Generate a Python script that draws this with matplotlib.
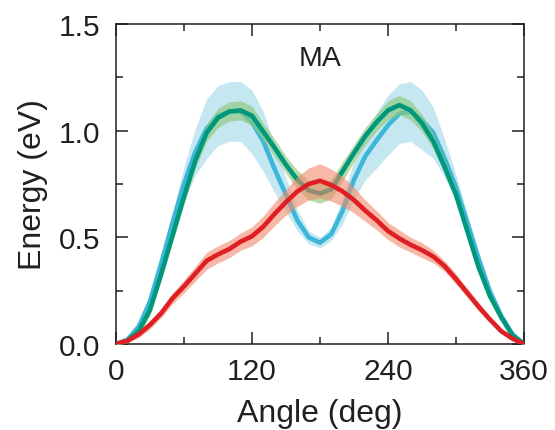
import numpy as np
import matplotlib
matplotlib.use("Agg")
import matplotlib.pyplot as plt
from matplotlib.ticker import MultipleLocator

plt.rcParams['font.family'] = ['Liberation Sans', 'DejaVu Sans']

# torsion angle grid (deg)
angle = np.arange(0, 361, 10)

# mean energy profiles (eV) and their spread
e_blue = [0.0, 0.02, 0.08, 0.20, 0.38, 0.57, 0.75, 0.90, 1.01, 1.07, 1.09, 1.09,
          1.04, 0.95, 0.82, 0.70, 0.58, 0.50, 0.475, 0.515, 0.625, 0.77, 0.88,
          0.955, 1.025, 1.08, 1.09, 1.05, 0.99, 0.87, 0.735, 0.57, 0.40, 0.245,
          0.13, 0.045, 0.0]
s_blue = [0.005, 0.015, 0.03, 0.03, 0.035, 0.05, 0.08, 0.11, 0.14, 0.14, 0.14,
          0.14, 0.15, 0.14, 0.11, 0.08, 0.05, 0.03, 0.025, 0.03, 0.06, 0.09,
          0.11, 0.13, 0.14, 0.14, 0.14, 0.14, 0.12, 0.09, 0.06, 0.04, 0.03,
          0.03, 0.025, 0.015, 0.005]

e_green = [0.0, 0.015, 0.06, 0.16, 0.33, 0.51, 0.69, 0.86, 0.99, 1.06, 1.09,
           1.095, 1.07, 0.995, 0.92, 0.84, 0.77, 0.72, 0.705, 0.725, 0.81,
           0.895, 0.975, 1.04, 1.095, 1.12, 1.095, 1.035, 0.95, 0.83, 0.70,
           0.53, 0.36, 0.225, 0.125, 0.04, 0.0]
s_green = [0.005, 0.01, 0.02, 0.025, 0.03, 0.03, 0.035, 0.035, 0.04, 0.045,
           0.045, 0.045, 0.045, 0.04, 0.04, 0.04, 0.045, 0.045, 0.045, 0.045,
           0.045, 0.04, 0.04, 0.04, 0.045, 0.045, 0.045, 0.04, 0.035, 0.03,
           0.03, 0.025, 0.02, 0.02, 0.015, 0.01, 0.005]

e_red = [0.0, 0.015, 0.045, 0.09, 0.145, 0.215, 0.27, 0.33, 0.39, 0.42, 0.445,
         0.48, 0.505, 0.55, 0.61, 0.665, 0.715, 0.75, 0.765, 0.745, 0.715,
         0.675, 0.625, 0.58, 0.53, 0.495, 0.465, 0.44, 0.41, 0.365, 0.305,
         0.24, 0.175, 0.115, 0.06, 0.025, 0.0]
s_red = [0.005, 0.01, 0.015, 0.02, 0.02, 0.025, 0.03, 0.035, 0.04, 0.04, 0.04,
         0.04, 0.045, 0.05, 0.055, 0.06, 0.07, 0.075, 0.08, 0.075, 0.07, 0.06,
         0.05, 0.045, 0.04, 0.04, 0.035, 0.035, 0.03, 0.025, 0.025, 0.02,
         0.02, 0.015, 0.01, 0.01, 0.005]

series = [
    (e_blue, s_blue, '#3db7d9', '#9fd8e8', 0.6),
    (e_green, s_green, '#00977b', '#8cc97a', 0.65),
    (e_red, s_red, '#e01f25', '#f28a6c', 0.6),
]

fig = plt.figure(figsize=(5.55, 4.31), dpi=100)
ax = fig.add_axes([0.209, 0.1995, 0.735, 0.7425])

for i, (e, s, line_col, band_col, a) in enumerate(series):
    e = np.array(e)
    s = np.array(s)
    ax.fill_between(angle, e - s, e + s, color=band_col, alpha=a,
                    linewidth=0, zorder=2 * i + 1)
    ax.plot(angle, e, color=line_col, lw=3.3, zorder=2 * i + 2,
            solid_capstyle='round', solid_joinstyle='round')

ax.text(180, 1.34, 'MA', ha='center', va='center', fontsize=20.5,
        color='#231f20')

ax.set_xlim(0, 360)
ax.set_ylim(0, 1.5)
ax.xaxis.set_major_locator(MultipleLocator(120))
ax.xaxis.set_minor_locator(MultipleLocator(60))
ax.yaxis.set_major_locator(MultipleLocator(0.5))
ax.yaxis.set_minor_locator(MultipleLocator(0.25))
ax.yaxis.set_major_formatter(matplotlib.ticker.FormatStrFormatter('%.1f'))

ax.tick_params(which='both', direction='in', top=True, right=True,
               color='#231f20', width=1.1, labelsize=21.5,
               labelcolor='#231f20')
ax.tick_params(which='major', length=8.6)
ax.tick_params(which='minor', length=5)
ax.tick_params(axis='x', pad=9)
ax.tick_params(axis='y', pad=11)
for sp in ax.spines.values():
    sp.set_linewidth(1.1)
    sp.set_color('#231f20')

ax.set_xlabel('Angle (deg)', fontsize=23, color='#231f20', labelpad=10)
ax.set_ylabel('Energy (eV)', fontsize=23, color='#231f20', labelpad=8)

fig.savefig('out.png', dpi=100)
